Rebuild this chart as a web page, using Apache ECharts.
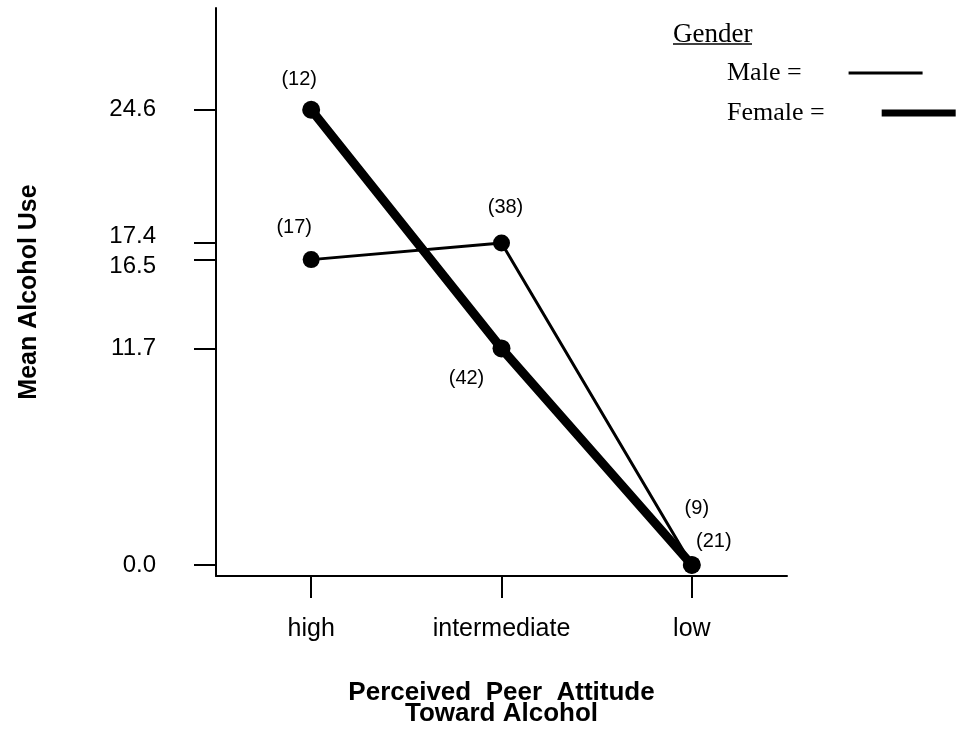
<!DOCTYPE html>
<html>
<head>
<meta charset="utf-8">
<script src="https://cdn.jsdelivr.net/npm/echarts@6/dist/echarts.min.js"></script>
<style>
  html, body { margin: 0; padding: 0; background: #fff; }
  #chart { width: 956px; height: 733px; }
</style>
</head>
<body>
<div id="chart"></div>
<script>
// ---- data ----
const categories = ['high', 'intermediate', 'low'];
const maleValues = [16.5, 17.4, 0.0];
const femaleValues = [24.6, 11.7, 0.0];
const maleN = [17, 38, 9];
const femaleN = [12, 42, 21];
const yTickValues = [0.0, 11.7, 16.5, 17.4, 24.6];

// ---- style (label offsets relative to each point) ----
const maleLabelOffsets = [[-17, -32], [4, -35], [5, -56]];
const femaleLabelOffsets = [[-12, -30], [-35, 30], [22, -23]];

const sans = '"Liberation Sans", Arial, Helvetica, sans-serif';
const serif = '"Liberation Serif", "Times New Roman", serif';

function buildData(values, offsets) {
  return values.map((v, i) => ({ value: v, label: { offset: offsets[i] } }));
}

const chart = echarts.init(document.getElementById('chart'), null, { renderer: 'canvas' });

const option = {
  animation: false,
  backgroundColor: '#fff',
  title: {
    text: 'Gender',
    left: 668,
    top: 16,
    textStyle: { fontFamily: serif, fontSize: 27, fontWeight: 'normal', color: '#000' }
  },
  graphic: [{
    type: 'line',
    shape: { x1: 673, y1: 44, x2: 752, y2: 44 },
    style: { stroke: '#000', lineWidth: 1.5 }
  }],
  legend: [
    {
      data: [{ name: 'Male', icon: 'rect' }],
      left: 722, top: 55,
      align: 'right',
      itemWidth: 74, itemHeight: 3,
      formatter: '{name} =',
      selectedMode: false,
      textStyle: { fontFamily: serif, fontSize: 26, color: '#000', padding: [0, 42, 0, 0] }
    },
    {
      data: [{ name: 'Female', icon: 'rect' }],
      left: 722, top: 95,
      align: 'right',
      itemWidth: 74, itemHeight: 7,
      formatter: '{name} =',
      selectedMode: false,
      textStyle: { fontFamily: serif, fontSize: 26, color: '#000', padding: [0, 52, 0, 0] }
    }
  ],
  grid: { left: 216, right: 169, top: 8, bottom: 157, containLabel: false },
  xAxis: {
    type: 'category',
    data: categories,
    boundaryGap: true,
    axisLine: { show: true, onZero: false, lineStyle: { color: '#000', width: 2 } },
    axisTick: { show: true, alignWithLabel: true, length: 22, lineStyle: { color: '#000', width: 2 } },
    axisLabel: { fontFamily: sans, fontSize: 25, color: '#000', margin: 41 },
    splitLine: { show: false },
    name: 'Perceived  Peer  Attitude\nToward Alcohol',
    nameLocation: 'middle',
    nameGap: 106,
    nameTextStyle: { fontFamily: sans, fontSize: 26, fontWeight: 'bold', color: '#000', lineHeight: 21 }
  },
  yAxis: {
    type: 'value',
    min: -0.6,
    max: 30.1,
    axisLine: { show: true, onZero: false, lineStyle: { color: '#000', width: 2 } },
    axisTick: { show: true, length: 22, customValues: yTickValues, lineStyle: { color: '#000', width: 2 } },
    axisLabel: {
      customValues: yTickValues,
      fontFamily: sans, fontSize: 24, color: '#000', margin: 60,
      formatter: function (v) {
        const s = Number(v).toFixed(1);
        if (Math.abs(v - 17.4) < 1e-6) return '{up|' + s + '}';
        if (Math.abs(v - 16.5) < 1e-6) return '{dn|' + s + '}';
        return s;
      },
      rich: {
        up: { fontFamily: sans, fontSize: 24, color: '#000', padding: [0, 0, 14, 0] },
        dn: { fontFamily: sans, fontSize: 24, color: '#000', padding: [14, 0, 0, 0] }
      }
    },
    splitLine: { show: false },
    name: 'Mean Alcohol Use',
    nameLocation: 'middle',
    nameGap: 174,
    nameRotate: 90,
    nameTextStyle: { fontFamily: sans, fontSize: 25, fontWeight: 'bold', color: '#000' }
  },
  series: [
    {
      name: 'Male',
      type: 'line',
      data: buildData(maleValues, maleLabelOffsets),
      symbol: 'circle',
      symbolSize: 17,
      lineStyle: { color: '#000', width: 3 },
      itemStyle: { color: '#000' },
      label: {
        show: true,
        position: 'inside',
        color: '#000',
        fontFamily: sans,
        fontSize: 20,
        textBorderWidth: 0,
        formatter: p => '(' + maleN[p.dataIndex] + ')'
      },
      z: 2
    },
    {
      name: 'Female',
      type: 'line',
      data: buildData(femaleValues, femaleLabelOffsets),
      symbol: 'circle',
      symbolSize: 18,
      lineStyle: { color: '#000', width: 9 },
      itemStyle: { color: '#000' },
      label: {
        show: true,
        position: 'inside',
        color: '#000',
        fontFamily: sans,
        fontSize: 20,
        textBorderWidth: 0,
        formatter: p => '(' + femaleN[p.dataIndex] + ')'
      },
      z: 3
    }
  ]
};

chart.setOption(option);
</script>
</body>
</html>
